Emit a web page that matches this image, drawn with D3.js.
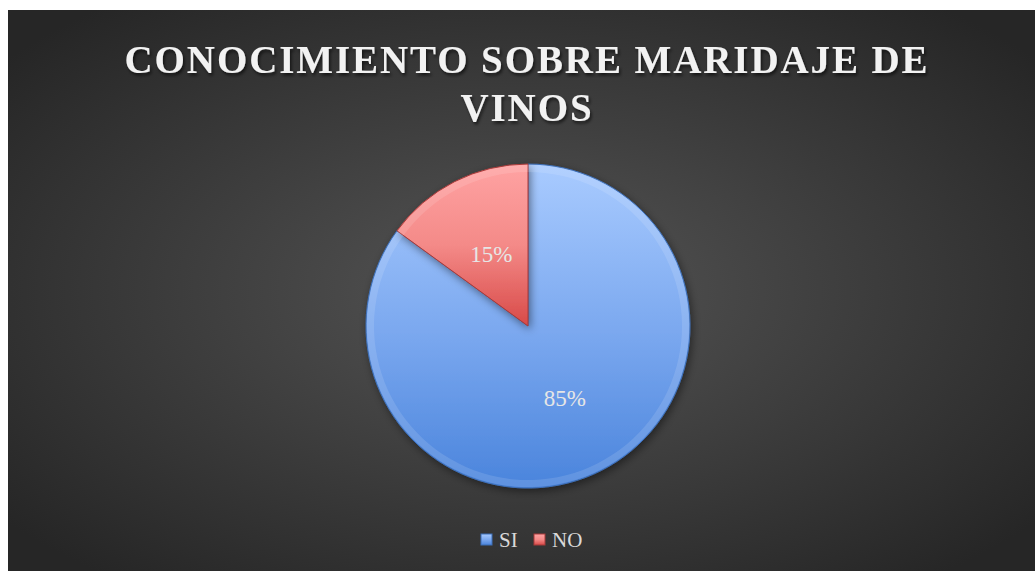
<!DOCTYPE html>
<html>
<head>
<meta charset="utf-8">
<script src="https://cdn.jsdelivr.net/npm/d3@7"></script>
<style>
  body { margin: 0; background: #fff; }
  svg { display: block; }
</style>
</head>
<body>
<svg id="chart" width="1035" height="571"></svg>
<script>
// chart data
const categories = ["SI", "NO"];
const values = [85, 15];
const titleLines = ["CONOCIMIENTO SOBRE MARIDAJE DE", "VINOS"];

const W = 1035, H = 571;
const FONT = "'Liberation Serif', 'Times New Roman', serif";
const svg = d3.select("#chart");
const defs = svg.append("defs");

// dark radial background
const bg = defs.append("radialGradient").attr("id", "bg")
  .attr("cx", "50%").attr("cy", "50%").attr("r", "65%");
bg.append("stop").attr("offset", "0%").attr("stop-color", "#555555");
bg.append("stop").attr("offset", "100%").attr("stop-color", "#262626");

const gradBlue = defs.append("linearGradient").attr("id", "gBlue")
  .attr("x1", 0).attr("y1", 0).attr("x2", 0).attr("y2", 1);
gradBlue.append("stop").attr("offset", "0%").attr("stop-color", "#a9cbff");
gradBlue.append("stop").attr("offset", "55%").attr("stop-color", "#78a6ee");
gradBlue.append("stop").attr("offset", "100%").attr("stop-color", "#4a84dc");

const gradRed = defs.append("linearGradient").attr("id", "gRed")
  .attr("x1", 0).attr("y1", 0).attr("x2", 0).attr("y2", 1);
gradRed.append("stop").attr("offset", "0%").attr("stop-color", "#ffa3a3");
gradRed.append("stop").attr("offset", "50%").attr("stop-color", "#f48a88");
gradRed.append("stop").attr("offset", "100%").attr("stop-color", "#d84a48");

const shadow = defs.append("filter").attr("id", "tshadow")
  .attr("x", "-5%").attr("y", "-20%").attr("width", "110%").attr("height", "150%");
shadow.append("feDropShadow").attr("dx", 1.5).attr("dy", 2.5).attr("stdDeviation", 1.5)
  .attr("flood-color", "#000").attr("flood-opacity", 0.6);

const pshadow = defs.append("filter").attr("id", "pshadow")
  .attr("x", "-20%").attr("y", "-20%").attr("width", "140%").attr("height", "140%");
pshadow.append("feDropShadow").attr("dx", 2).attr("dy", 3).attr("stdDeviation", 4)
  .attr("flood-color", "#000").attr("flood-opacity", 0.45);

svg.append("rect").attr("x", 8).attr("y", 10).attr("width", W - 8).attr("height", H - 10)
  .attr("fill", "url(#bg)");

// title
const title = svg.append("text")
  .attr("text-anchor", "middle")
  .attr("font-family", FONT)
  .attr("font-weight", "bold")
  .attr("font-size", 39)
  .attr("fill", "#f2f2f2")
  .attr("filter", "url(#tshadow)");
const tspans = title.selectAll("tspan").data(titleLines).join("tspan")
  .attr("x", 527)
  .attr("y", (d, i) => 73 + i * 48)
  .text(d => d);

// stretch the first line to the reference width with letter spacing
const firstLen = tspans.node().getComputedTextLength();
const ls = Math.max(0, (803 - firstLen) / (titleLines[0].length - 1));
title.attr("letter-spacing", ls);

// pie
const cx = 528, cy = 326, r = 162;
const color = d3.scaleOrdinal().domain(categories).range(["url(#gBlue)", "url(#gRed)"]);
const pie = d3.pie().sort(null).value(d => d.v);
const arcs = pie(categories.map((c, i) => ({ c, v: values[i] })));
const arc = d3.arc().innerRadius(0).outerRadius(r);
const labelArc = d3.arc().innerRadius(r * 0.5).outerRadius(r * 0.5);

const g = svg.append("g").attr("transform", `translate(${cx},${cy})`);
g.selectAll("path.slice").data(arcs).join("path")
  .attr("class", "slice")
  .attr("d", arc)
  .attr("fill", d => color(d.data.c))
  .attr("stroke", d => d.data.c === "SI" ? "#3d6fb8" : "#a83b3a")
  .attr("stroke-width", 1)
  .attr("filter", "url(#pshadow)");

// soft inner bevel highlight
g.selectAll("path.bevel").data(arcs).join("path")
  .attr("class", "bevel")
  .attr("d", d3.arc().innerRadius(r - 8).outerRadius(r - 1))
  .attr("fill", "#ffffff")
  .attr("opacity", 0.12);

const total = d3.sum(values);
g.selectAll("text.lbl").data(arcs).join("text")
  .attr("class", "lbl")
  .attr("transform", d => {
    const [x, y] = labelArc.centroid(d);
    return `translate(${x},${y})`;
  })
  .attr("text-anchor", "middle")
  .attr("dy", "0.35em")
  .attr("font-family", FONT)
  .attr("font-size", 23)
  .attr("fill", "#e6e6e6")
  .text(d => Math.round(d.data.v / total * 100) + "%");

// legend
const legend = svg.append("g").attr("transform", "translate(481,540)");
const items = legend.selectAll("g").data(categories).join("g")
  .attr("transform", (d, i) => `translate(${i * 53},0)`);
items.append("rect")
  .attr("x", 0).attr("y", -6).attr("width", 11).attr("height", 11)
  .attr("fill", d => color(d))
  .attr("stroke", d => d === "SI" ? "#3d6fb8" : "#a83b3a");
items.append("text")
  .attr("x", 18).attr("y", 0).attr("dy", "0.35em")
  .attr("font-family", FONT)
  .attr("font-size", 21)
  .attr("fill", "#d9d9d9")
  .text(d => d);
</script>
</body>
</html>
